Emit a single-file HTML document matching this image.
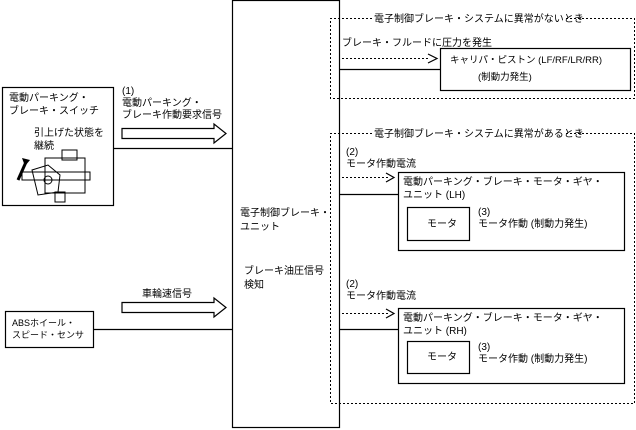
<!DOCTYPE html>
<html><head><meta charset="utf-8"><style>
body{margin:0;background:#fff;}
svg{display:block;font-family:"Liberation Sans","Noto Sans CJK JP",sans-serif;font-size:10px;}
</style></head><body>
<svg width="636" height="430" viewBox="0 0 636 430" xmlns="http://www.w3.org/2000/svg">
<g fill="none" stroke="#000" stroke-width="1.2">
<!-- ECU -->
<rect x="232.5" y="0.5" width="107" height="427"/>
<!-- switch box -->
<rect x="2.5" y="87.5" width="111" height="118"/>
<line x1="113" y1="148.5" x2="232" y2="148.5"/>
<!-- ABS box -->
<rect x="5.5" y="311.5" width="88" height="36"/>
<line x1="93" y1="329.5" x2="232" y2="329.5"/>
<!-- hollow arrows -->
<path d="M122 128.5 H214 V124 L226 133.5 L214 143 V138.5 H122 Z"/>
<path d="M122 302.5 H214 V298 L226 307.5 L214 317 V312.5 H122 Z"/>
<!-- dotted boxes -->
<g stroke-dasharray="2,2" stroke-width="1">
<path d="M372 18.5 H330.5 V98.5 H634.5 V18.5 H566"/>
<path d="M372 133.5 H330.5 V403.5 H634.5 V133.5 H566"/>
<line x1="342" y1="58.5" x2="430" y2="58.5"/>
<line x1="342" y1="177.5" x2="388" y2="177.5"/>
<line x1="342" y1="313.5" x2="388" y2="313.5"/>
</g>
<path d="M428 54 L437 58.5 L428 63"/>
<path d="M386 173 L394 177.5 L386 182"/>
<path d="M386 309 L394 313.5 L386 318"/>
<line x1="340" y1="69.5" x2="440" y2="69.5"/>
<line x1="340" y1="194.5" x2="398" y2="194.5"/>
<line x1="340" y1="329.5" x2="398" y2="329.5"/>
<rect x="440.5" y="48.5" width="190" height="42"/>
<rect x="398.5" y="172.5" width="226" height="78"/>
<rect x="407.5" y="207.5" width="62" height="33"/>
<rect x="398.5" y="308.5" width="226" height="75"/>
<rect x="407.5" y="341.5" width="62" height="32"/>
</g>
<!-- switch sketch -->
<g fill="none" stroke="#000" stroke-width="1">
<rect x="62" y="150" width="15" height="10"/>
<rect x="45" y="158" width="40" height="35"/>
<rect x="22" y="172" width="68" height="8"/>
<path d="M32 170 L48 165 L60 175 L58 192 L38 195 Z"/>
<circle cx="48" cy="180" r="4"/>
<rect x="55" y="192" width="10" height="10"/>
</g>
<path d="M18 180 L26 162" stroke="#000" stroke-width="3"/>
<path d="M22 158 L30 160 L25 166 Z" fill="#000"/>
<g fill="#000">
<text x="9" y="101">電動パーキング・</text>
<text x="9" y="114">ブレーキ・スイッチ</text>
<text x="34" y="136">引上げた状態を</text>
<text x="34" y="149">継続</text>
<text x="122" y="94">(1)</text>
<text x="122" y="106">電動パーキング・</text>
<text x="122" y="118">ブレーキ作動要求信号</text>
<text x="142" y="297">車輪速信号</text>
<text x="12" y="326" font-size="9">ABSホイール・</text>
<text x="12" y="338" font-size="9">スピード・センサ</text>
<text x="240" y="216">電子制御ブレーキ・</text>
<text x="240" y="230">ユニット</text>
<text x="244" y="274">ブレーキ油圧信号</text>
<text x="244" y="288">検知</text>
<text x="374" y="22">電子制御ブレーキ・システムに異常がないとき</text>
<text x="342" y="46">ブレーキ・フルードに圧力を発生</text>
<text x="450" y="63" font-size="9.5">キャリパ・ピストン (LF/RF/LR/RR)</text>
<text x="478" y="80" font-size="9.5">(制動力発生)</text>
<text x="374" y="137">電子制御ブレーキ・システムに異常があるとき</text>
<text x="346" y="155">(2)</text>
<text x="346" y="167">モータ作動電流</text>
<text x="403" y="185">電動パーキング・ブレーキ・モータ・ギヤ・</text>
<text x="403" y="198">ユニット (LH)</text>
<text x="427" y="227">モータ</text>
<text x="478" y="215">(3)</text>
<text x="478" y="227">モータ作動 (制動力発生)</text>
<text x="346" y="287">(2)</text>
<text x="346" y="299">モータ作動電流</text>
<text x="403" y="321">電動パーキング・ブレーキ・モータ・ギヤ・</text>
<text x="403" y="334">ユニット (RH)</text>
<text x="427" y="360">モータ</text>
<text x="478" y="350">(3)</text>
<text x="478" y="362">モータ作動 (制動力発生)</text>
</g>
</svg>
</body></html>
